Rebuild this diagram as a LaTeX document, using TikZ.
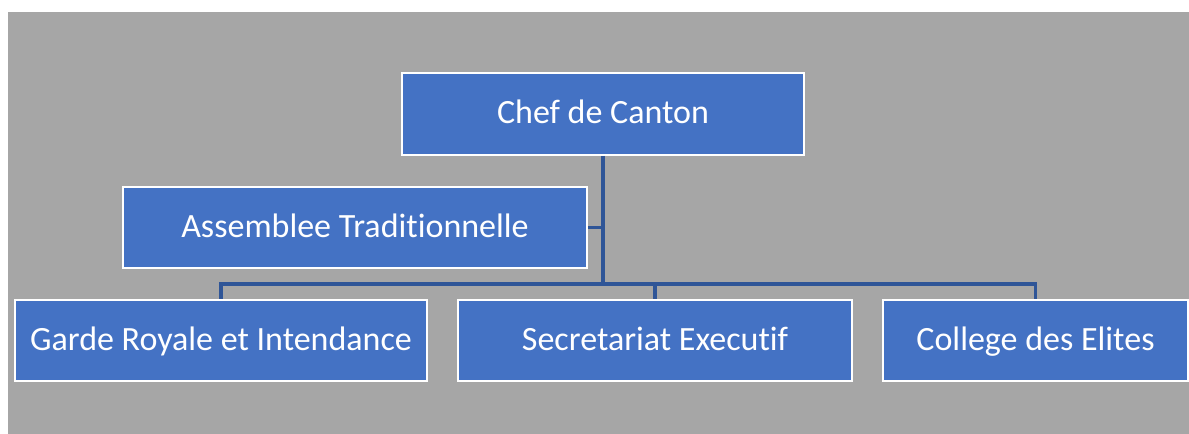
\documentclass[tikz,border=0pt]{standalone}
\usepackage{fontspec}
\setmainfont{Carlito}[Ligatures=NoCommon,RawFeature={-liga;-dlig}]
\definecolor{bg}{HTML}{A6A6A6}
\definecolor{boxfill}{HTML}{4472C4}
\definecolor{conn}{HTML}{2F5597}
\begin{document}
\begin{tikzpicture}[x=0.75pt,y=-0.75pt,
  orgbox/.style={rectangle,fill=boxfill,draw=white,line width=1.5pt,inner sep=0pt,
    minimum height=60.75pt,text=white,font=\fontsize{25.5}{30}\selectfont,
    text height=19.1pt,text depth=4.1pt},
  link/.style={draw=conn,line width=2.5pt}]
\useasboundingbox (0,0) rectangle (1189,434);
\fill[white] (0,0) rectangle (1189,434);
\fill[bg] (8,12) rectangle (1189,434);
\node[orgbox,minimum width=301.5pt,minimum height=61.5pt] (chef) at (603,114) {Chef de Canton};
\node[orgbox,minimum width=348pt] (assem) at (355,227.5) {Assemblee Traditionnelle};
\node[orgbox,minimum width=309pt] (garde) at (221,340.5) {Garde Royale et Intendance};
\node[orgbox,minimum width=295.5pt] (secr) at (655,340.5) {Secretariat Executif};
\node[orgbox,minimum width=228.75pt] (coll) at (1035.5,340.5) {College des Elites};
\coordinate (bus) at (603,284);
\draw[link] (chef.south) -- (bus);
\draw[link] (assem.east) -- (assem.east -| chef.south);
\draw[link] (garde.north) -- (bus -| garde.north) -- (bus -| coll.north) -- (coll.north);
\draw[link] (secr.north) -- (bus -| secr.north);
\end{tikzpicture}
\end{document}
